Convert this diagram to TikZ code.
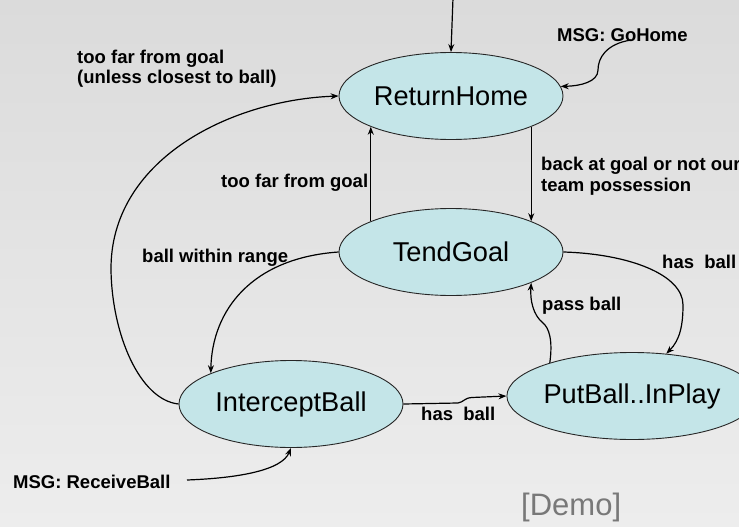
\documentclass[tikz,border=0pt]{standalone}
\usepackage{fontspec}
\setmainfont{Liberation Sans}
\usetikzlibrary{shapes.geometric,arrows.meta}
\definecolor{stfill}{RGB}{196,229,232}
\definecolor{bgtop}{RGB}{219,219,219}
\definecolor{bgbot}{RGB}{237,237,237}
\definecolor{demogray}{RGB}{120,120,120}
\tikzset{
  stbox/.style={ellipse,draw=black!85,line width=0.9pt,fill=stfill,inner sep=0pt,
    minimum width=224pt,minimum height=87pt,font=\fontsize{27.2}{30}\selectfont},
  lbl/.style={anchor=west,align=left,inner sep=0pt,font=\fontsize{18.5}{20.5}\selectfont\bfseries},
  conn/.style={line width=1.2pt,-{Stealth[length=8pt,width=6pt]}}
}
\begin{document}
\begin{tikzpicture}[x=1pt,y=-1pt]
\fill[top color=bgtop,bottom color=bgbot] (0,0) rectangle (739,527);
\useasboundingbox (0,0) rectangle (739,527);

\node[stbox] (rh) at (451,96) {ReturnHome};
\node[stbox] (tg) at (451,252) {TendGoal};
\node[stbox] (ib) at (291,404) {InterceptBall};
\node[stbox,minimum width=218pt] (pb) at (632,396) {PutBall..InPlay};

\coordinate (init) at (453,-2);
\coordinate (gh) at (631,40);
\coordinate (rb) at (187,480);

\node[lbl] (l1) at (77,68.5) {too far from goal\\(unless closest to ball)};
\node[lbl] (l2) at (221,183) {too far from goal};
\node[lbl] (l3) at (142,258) {ball within range};
\node[lbl] (l4) at (557,35) {MSG: GoHome};
\node[lbl] (l5) at (541,176) {back at goal or not our\\team possession};
\node[lbl] (l6) at (662,262) {has\ \ ball};
\node[lbl] (l7) at (542,306) {pass ball};
\node[lbl] (l8) at (421,414) {has\ \ ball};
\node[lbl] (l9) at (13,482) {MSG: ReceiveBall};
\node[anchor=west,inner sep=0pt,text=demogray,font=\fontsize{31}{34}\selectfont] (demo) at (521,507) {[Demo]};

\draw[conn] (init) -- (rh.north);
\draw[conn] (gh) .. controls (606,44) and (598,58) .. (598,70) .. controls (598,82) and (580,86) .. (rh.5);
\draw[conn] (rh.-21) -- (tg.21);
\draw[conn] (tg.159) -- (rh.-159);
\draw[conn] (ib.west) .. controls (140,400) and (112,335) .. (111,270) .. controls (110,160) and (230,100) .. (rh.west);
\draw[conn] (tg.west) .. controls (252,258) and (212,310) .. (ib.159);
\draw[conn] (tg.east) .. controls (630,254) and (683,275) .. (683,305) .. controls (683,325) and (680,340) .. (pb.51);
\draw[conn] (pb.158) .. controls (553,340) and (549,328) .. (543,323) .. controls (533,315) and (530,300) .. (tg.-21);
\draw[conn] (ib.east) -- (458,403) .. controls (464,402) and (464,398) .. (472,397.5) -- (pb.west);
\draw[conn] (rb) .. controls (240,478) and (282,470) .. (ib.south);
\end{tikzpicture}
\end{document}
